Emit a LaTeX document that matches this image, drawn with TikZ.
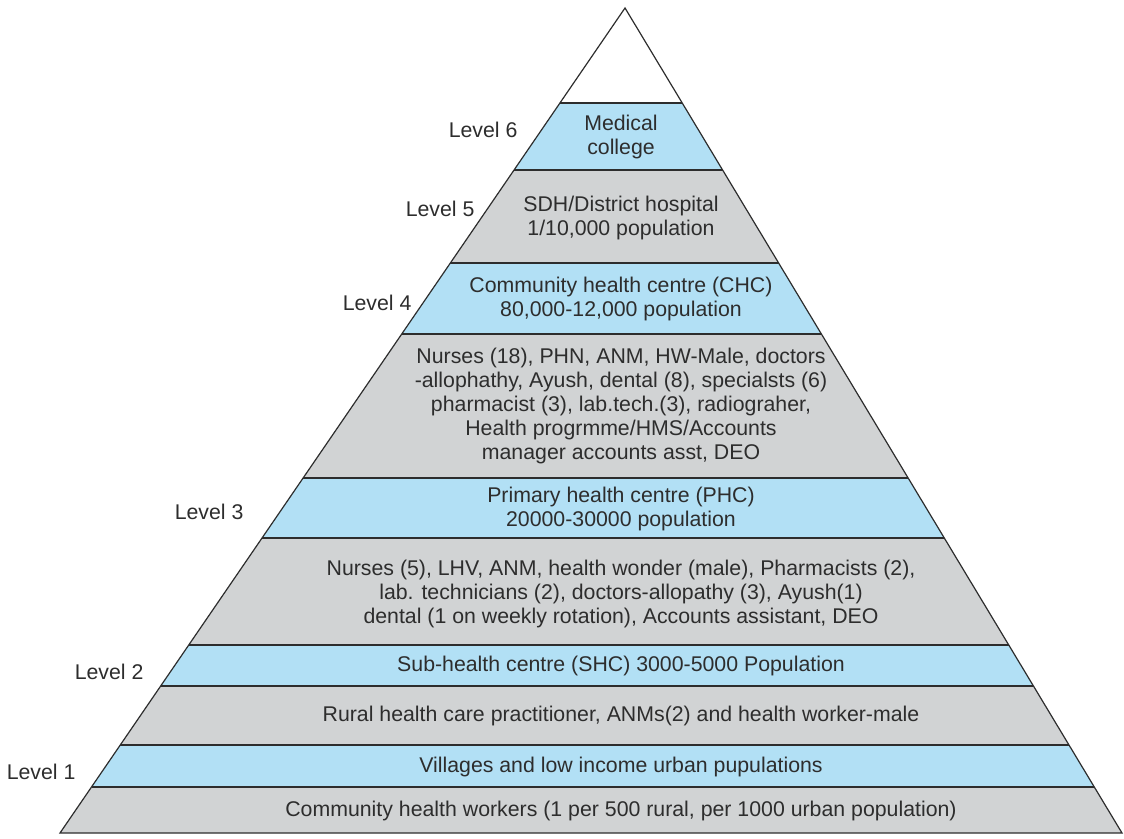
\documentclass[tikz,border=0pt]{standalone}
\usepackage{fontspec}
\setmainfont{Liberation Sans}
\usepackage{tikz}
\usetikzlibrary{calc}
\definecolor{bandblue}{RGB}{178,224,245}
\definecolor{bandgrey}{RGB}{209,211,212}
\definecolor{inkgrey}{RGB}{45,45,45}

\begin{document}
\begin{tikzpicture}[x=1pt,y=-1pt,
  bandtext/.style={align=center, text=inkgrey, font=\fontsize{21.3}{24}\selectfont},
  levellabel/.style={anchor=east, text=inkgrey, font=\fontsize{21.3}{24}\selectfont}]
\useasboundingbox (0,0) rectangle (1124,838);
\coordinate (apex) at (625,8);
\coordinate (bl) at (60,833);
\coordinate (br) at (1122,833);
% the coloured bands, top to bottom
\foreach \t/\b/\c in {103/170/bandblue, 170/263/bandgrey, 263/334/bandblue,
    334/478/bandgrey, 478/538/bandblue, 538/645/bandgrey, 645/686/bandblue,
    686/745/bandgrey, 745/787/bandblue, 787/833/bandgrey}{
  \pgfmathsetmacro\ft{(\t-8)/825}
  \pgfmathsetmacro\fb{(\b-8)/825}
  \fill[\c] ($(apex)!\ft!(bl)$) -- ($(apex)!\ft!(br)$) -- ($(apex)!\fb!(br)$) -- ($(apex)!\fb!(bl)$) -- cycle;
  \draw[inkgrey, line width=1.6pt] ($(apex)!\ft!(bl)$) -- ($(apex)!\ft!(br)$);
}
\draw[inkgrey, line width=1.2pt, line join=miter] (apex) -- (bl) -- (br) -- cycle;

% texts in the bands
\node[bandtext] (med) at (621,136.5) {Medical\\college};
\node[bandtext] (sdh) at (621,218) {SDH/District hospital\\1/10,000 population};
\node[bandtext] (chc) at (621,299) {Community health centre (CHC)\\80,000-12,000 population};
\node[bandtext] (chcstaff) at (621,406) {Nurses (18), PHN, ANM, HW-Male, doctors\\-allophathy, Ayush, dental (8), specialsts (6)\\pharmacist (3), lab.tech.(3), radiograher,\\Health progrmme/HMS/Accounts\\manager accounts asst, DEO};
\node[bandtext] (phc) at (621,508.5) {Primary health centre (PHC)\\20000-30000 population};
\node[bandtext] (phcstaff) at (621,594) {Nurses (5), LHV, ANM, health wonder (male), Pharmacists (2),\\lab. technicians (2), doctors-allopathy (3), Ayush(1)\\dental (1 on weekly rotation), Accounts assistant, DEO};
\node[bandtext] (shc) at (621,666) {Sub-health centre (SHC) 3000-5000 Population};
\node[bandtext] (shcstaff) at (621,716) {Rural health care practitioner, ANMs(2) and health worker-male};
\node[bandtext] (village) at (621,766.5) {Villages and low income urban pupulations};
\node[bandtext] (chw) at (621,810.5) {Community health workers (1 per 500 rural, per 1000 urban population)};

% level labels
\node[levellabel] (lvlsix) at (521,130) {Level 6};
\node[levellabel] (lvlfive) at (478,209) {Level 5};
\node[levellabel] (lvlfour) at (415,303) {Level 4};
\node[levellabel] (lvlthree) at (247,512) {Level 3};
\node[levellabel] (lvltwo) at (147,672) {Level 2};
\node[levellabel] (lvlone) at (79,772) {Level 1};
\end{tikzpicture}
\end{document}
